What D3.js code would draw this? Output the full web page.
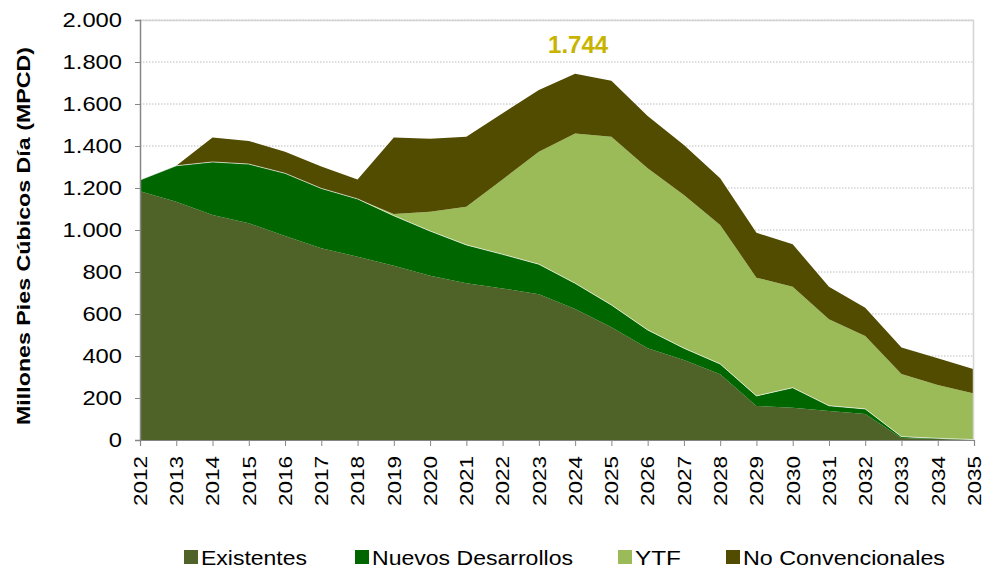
<!DOCTYPE html>
<html>
<head>
<meta charset="utf-8">
<script src="https://cdn.jsdelivr.net/npm/d3@7"></script>
<style>
  body { margin: 0; background: #fff; }
  text { font-family: "Liberation Sans", Arial, sans-serif; }
</style>
</head>
<body>
<div id="chart"></div>
<script>
var years = ["2012","2013","2014","2015","2016","2017","2018","2019","2020","2021","2022","2023",
             "2024","2025","2026","2027","2028","2029","2030","2031","2032","2033","2034","2035"];
var existentes = [1185,1135,1071,1032,971,913,873,830,782,746,722,694,624,537,437,381,313,162,154,138,124,10,5,2];
var nuevos =     [53,171,253,282,299,285,275,238,213,183,162,143,122,106,87,56,49,48,95,25,24,6,3,0];
var ytf =        [0,0,0,0,0,0,0,8,92,182,357,536,714,801,770,730,662,563,481,412,347,298,254,220];
var noConv =     [0,0,116,110,103,104,93,364,348,333,315,294,284,267,249,238,222,214,202,155,135,126,127,115];
var seriesNames = ["Existentes", "Nuevos Desarrollos", "YTF", "No Convencionales"];
var colors = ["#4f6228", "#006600", "#9bbb59", "#524c00"];
var yTicks = [0,200,400,600,800,1000,1200,1400,1600,1800,2000];
var peakLabel = "1.744";
var peakYear = "2024";
var peakValue = 1744;

var width = 985, height = 569;
var margin = { top: 20, right: 11, bottom: 129, left: 140 };

var svg = d3.select("#chart").append("svg")
      .attr("width", width)
      .attr("height", height);

var x = d3.scalePoint()
      .domain(years)
      .range([margin.left, width - margin.right]);
var y = d3.scaleLinear()
      .domain([0, 2000])
      .range([height - margin.bottom, margin.top]);

var fmt = function (v) { return d3.format(",")(v).replace(/,/g, "."); };

// build table for stack
var table = years.map(function (yr, i) {
      return { year: yr, s0: existentes[i], s1: nuevos[i], s2: ytf[i], s3: noConv[i] };
});
var stacked = d3.stack().keys(["s0", "s1", "s2", "s3"])(table);

// gridlines
svg.append("g")
      .selectAll("line")
      .data(yTicks.slice(1))
      .enter().append("line")
      .attr("x1", margin.left)
      .attr("x2", width - margin.right)
      .attr("y1", function (d) { return y(d); })
      .attr("y2", function (d) { return y(d); })
      .attr("stroke", "#bdbdbd")
      .attr("stroke-width", 1)
      .attr("stroke-dasharray", "1.5,1.5");

var area = d3.area()
      .x(function (d) { return x(d.data.year); })
      .y0(function (d) { return y(d[0]); })
      .y1(function (d) { return y(d[1]); });

svg.append("g")
      .selectAll("path")
      .data(stacked)
      .enter().append("path")
      .attr("fill", function (d, i) { return colors[i]; })
      .attr("d", area);

// thin white edge on top of Nuevos Desarrollos
var topLine = d3.line()
      .x(function (d) { return x(d.data.year); })
      .y(function (d) { return y(d[1]); });
svg.append("path")
      .attr("d", topLine(stacked[1]))
      .attr("fill", "none")
      .attr("stroke", "#ffffff")
      .attr("stroke-opacity", 0.8)
      .attr("stroke-width", 0.8);

// plot border (top and right)
svg.append("path")
      .attr("d", "M" + margin.left + "," + (margin.top + 0.5) + "H" + (width - margin.right - 0.5) + "V" + y(0))
      .attr("fill", "none")
      .attr("stroke", "#d4d4d4")
      .attr("stroke-width", 1.5);

// axes
var yAxis = d3.axisLeft(y).tickValues(yTicks).tickSize(5).tickFormat(fmt);
var gy = svg.append("g")
      .attr("transform", "translate(" + margin.left + ",0)")
      .call(yAxis);
gy.select(".domain").attr("stroke", "#868686").attr("stroke-width", 1.5);
gy.selectAll(".tick line").attr("stroke", "#868686");
gy.selectAll("text")
      .attr("x", -18)
      .attr("fill", "#000")
      .style("font-size", "21px")
      .each(function () {
            // labels in the original are a bit wider than normal
            var w = this.getComputedTextLength();
            d3.select(this).attr("textLength", w * 1.13).attr("lengthAdjust", "spacingAndGlyphs");
      });

var xAxis = d3.axisBottom(x).tickSize(6);
var gx = svg.append("g")
      .attr("transform", "translate(0," + y(0) + ")")
      .call(xAxis);
gx.select(".domain").attr("stroke", "#868686").attr("stroke-width", 1.2);
gx.selectAll(".tick line").attr("stroke", "#868686");
gx.selectAll("text")
      .attr("transform", "rotate(-90)")
      .attr("x", -16)
      .attr("y", 0)
      .attr("dy", "0.35em")
      .style("text-anchor", "end")
      .attr("fill", "#000")
      .style("font-size", "18px")
      .attr("textLength", 50)
      .attr("lengthAdjust", "spacingAndGlyphs");

// y axis title
svg.append("text")
      .attr("transform", "translate(30," + ((y(0) + 32) / 2) + ") rotate(-90)")
      .style("text-anchor", "middle")
      .style("font-size", "18px")
      .style("font-weight", "bold")
      .attr("textLength", 378)
      .attr("lengthAdjust", "spacingAndGlyphs")
      .text("Millones  Pies  Cúbicos  Día (MPCD)");

// peak label
svg.append("text")
      .attr("x", x(peakYear) + 3)
      .attr("y", y(peakValue) - 21)
      .style("text-anchor", "middle")
      .style("font-size", "24px")
      .style("font-weight", "bold")
      .attr("fill", "#c8b400")
      .text(peakLabel);

// legend
var legendX = [184, 355, 618, 726];
var legendW = [106, 201, 46, 202];
var lg = svg.append("g").selectAll("g")
      .data(seriesNames)
      .enter().append("g")
      .attr("transform", function (d, i) { return "translate(" + legendX[i] + ",550)"; });
lg.append("rect")
      .attr("width", 14)
      .attr("height", 14)
      .attr("fill", function (d, i) { return colors[i]; });
lg.append("text")
      .attr("x", 17)
      .attr("y", 15)
      .style("font-size", "21px")
      .attr("textLength", function (d, i) { return legendW[i]; })
      .attr("lengthAdjust", "spacingAndGlyphs")
      .text(function (d) { return d; });
</script>
</body>
</html>
